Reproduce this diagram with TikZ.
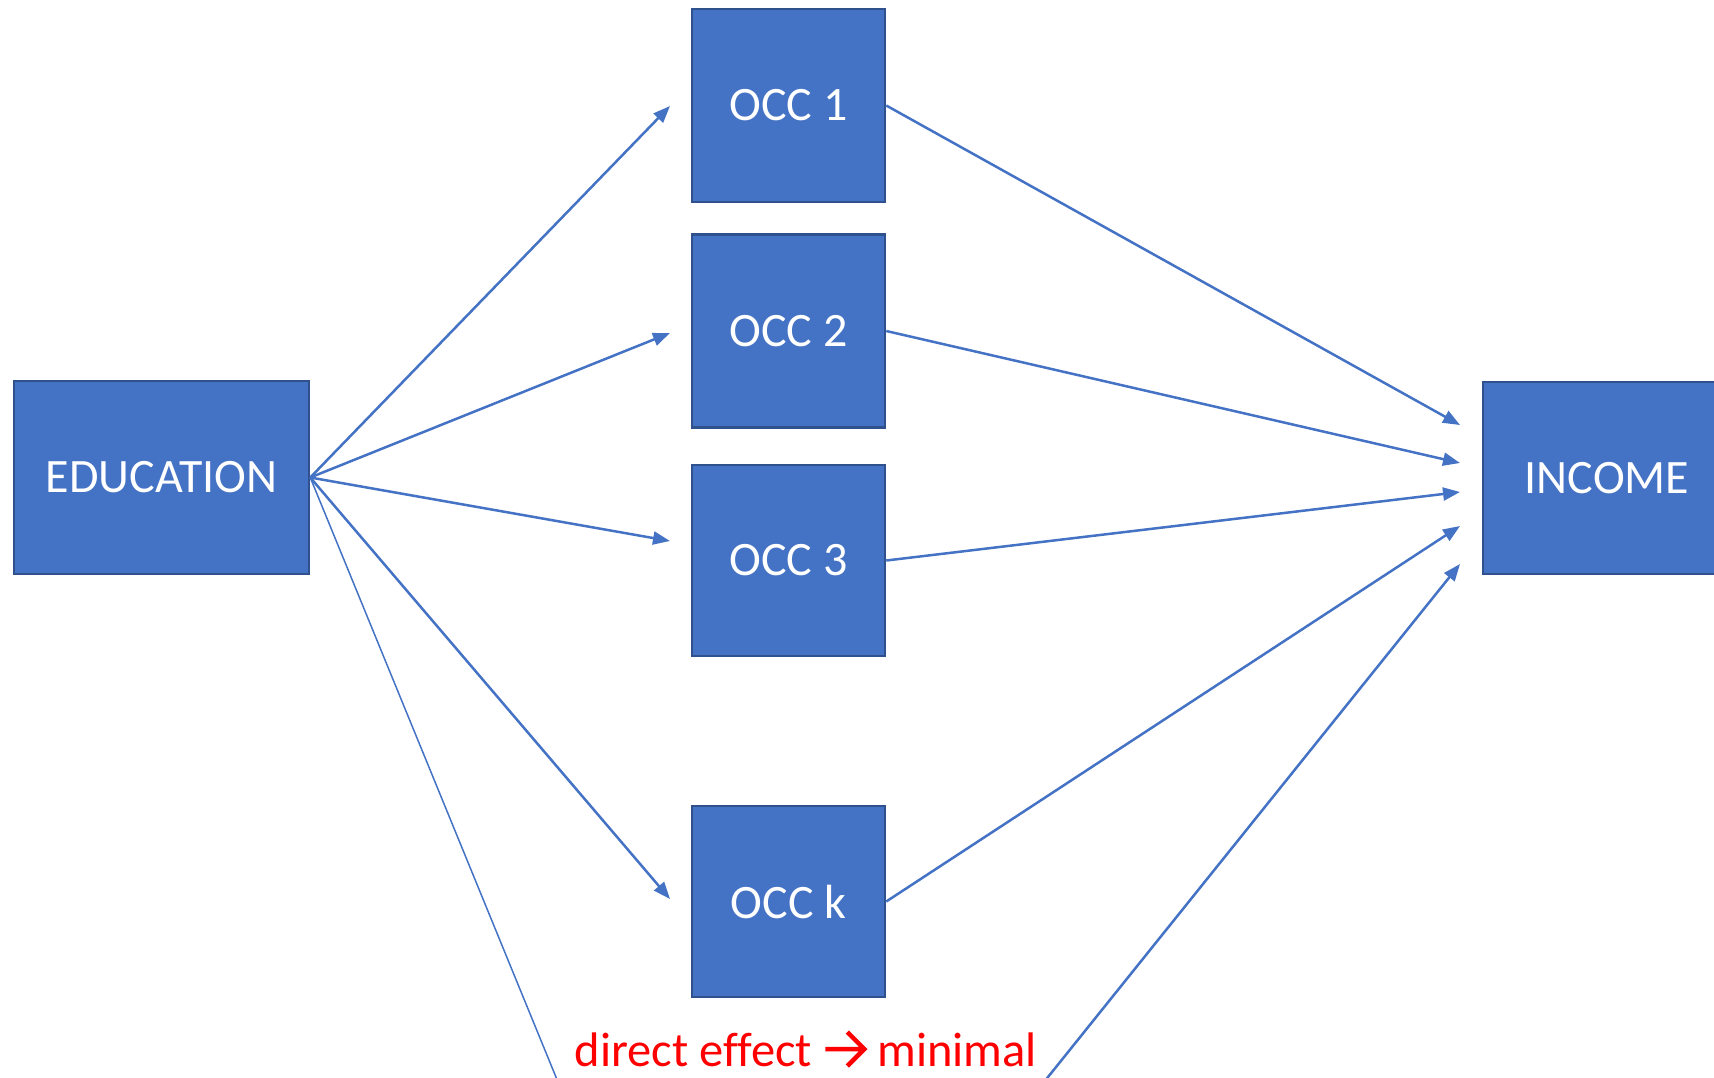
\documentclass[tikz,border=0pt]{standalone}
\usepackage{fontspec}
\setmainfont{Carlito}
\usetikzlibrary{arrows.meta}
\definecolor{boxfill}{HTML}{4472C4}
\definecolor{boxline}{HTML}{2F528F}
\definecolor{linkblue}{HTML}{4472C4}
\begin{document}
\begin{tikzpicture}[x=1pt,y=-1pt,
  varbox/.style={draw=boxline, line width=2.5pt, fill=boxfill, text=white,
    inner sep=0pt, font=\fontsize{48}{58}\selectfont},
  link/.style={draw=linkblue, line width=2.5pt,
    -{Triangle[length=17pt,width=13pt]}},
  thinlink/.style={draw=linkblue, line width=1.5pt}]
\useasboundingbox (0,0) rectangle (1714,1077);

% variables
\node[varbox, minimum width=295pt, minimum height=193pt] (edu) at (161.5,477.5) {EDUCATION};
\node[varbox, minimum width=193pt, minimum height=193pt] (occ1) at (788.5,105.5) {OCC 1};
\node[varbox, minimum width=193pt, minimum height=193pt] (occ2) at (788.5,331) {OCC 2};
\node[varbox, minimum width=193pt, minimum height=191pt] (occ3) at (788.5,560.5) {OCC 3};
\node[varbox, minimum width=193pt, minimum height=191pt] (occk) at (788.5,901.5) {OCC k};
\node[varbox, minimum width=248pt, minimum height=192pt] (inc) at (1607,478) {INCOME};

% arrow tips in front of the occupation boxes
\coordinate (a1) at (670,106);
\coordinate (a2) at (670,333);
\coordinate (a3) at (670,541);
\coordinate (ak) at (670,899);
% arrow tips in front of the income box
\coordinate (b1) at (1460,425);
\coordinate (b2) at (1460,463);
\coordinate (b3) at (1460,492);
\coordinate (bk) at (1460,526);
\coordinate (bd) at (1460,564);
% direct path leaving and re-entering the bottom edge
\coordinate (d1) at (558,1082);
\coordinate (d2) at (1044,1082);

\draw[link] (edu.east) -- (a1);
\draw[link] (edu.east) -- (a2);
\draw[link] (edu.east) -- (a3);
\draw[link] (edu.east) -- (ak);
\draw[thinlink] (edu.east) -- (d1);

\draw[link] (occ1.east) -- (b1);
\draw[link] (occ2.east) -- (b2);
\draw[link] (occ3.east) -- (b3);
\draw[link] (occk.east) -- (bk);
\draw[link] (d2) -- (bd);

% note on the direct effect
\node[text=red, inner sep=0pt, anchor=base, font=\addfontfeatures{Ligatures=NoCommon}\fontsize{48.5}{58}\selectfont] (note) at (806,1066)
  {direct effect \tikz[baseline=0pt,x=1pt,y=1pt]\draw[red, line width=4.5pt, line cap=butt, line join=miter]
    (0,17) -- (39,17) (22,0) -- (39,17) -- (22,34);\ minimal};
\end{tikzpicture}
\end{document}
